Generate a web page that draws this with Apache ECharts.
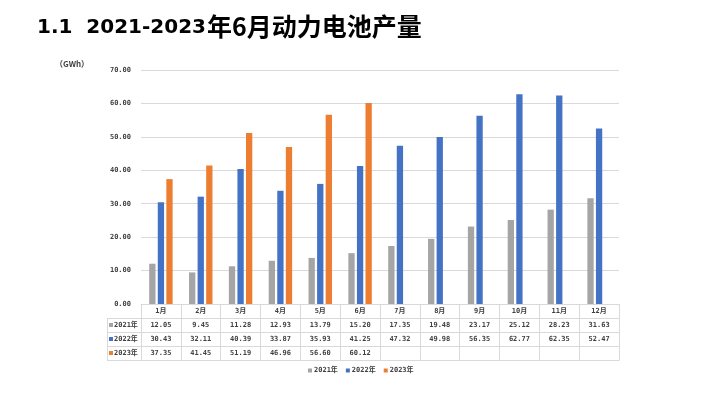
<!DOCTYPE html>
<html>
<head>
<meta charset="utf-8">
<script src="https://cdn.jsdelivr.net/npm/echarts@6/dist/echarts.min.js"></script>
<style>html,body{margin:0;padding:0;background:#fff;}#c{width:720px;height:395px;}</style>
</head>
<body>
<div id="c"></div>
<script>
const titleNumPart = '1.1  2021-2023';
const titleCjkPart = '年6月动力电池产量';
const unitText = '（GWh）';
const months = ['1月','2月','3月','4月','5月','6月','7月','8月','9月','10月','11月','12月'];
const seriesNames = ['2021年','2022年','2023年'];
const data2021 = [12.05, 9.45, 11.28, 12.93, 13.79, 15.20, 17.35, 19.48, 23.17, 25.12, 28.23, 31.63];
const data2022 = [30.43, 32.11, 40.39, 33.87, 35.93, 41.25, 47.32, 49.98, 56.35, 62.77, 62.35, 52.47];
const data2023 = [37.35, 41.45, 51.19, 46.96, 56.60, 60.12, null, null, null, null, null, null];
const yMin = 0, yMax = 70, yInterval = 10;

const allData = [data2021, data2022, data2023];
const colors = ['#A5A5A5', '#4472C4', '#ED7D31'];
const mono = "'DejaVu Sans Mono','Noto Sans CJK SC',monospace";
const textColor = '#404040';
const lineColor = '#d9d9d9';
const rowH = 14;
const gLeft = 141, gRight = 619, gTop = 70, gBottom = 304, tableLeft = 107;

const chart = echarts.init(document.getElementById('c'), null, {renderer: 'canvas'});

const xAxes = [{
  type: 'category', data: months, gridIndex: 0, position: 'bottom',
  axisLine: {show: true, lineStyle: {color: lineColor, width: 1}},
  axisTick: {show: true, length: rowH * 4, lineStyle: {color: lineColor, width: 1}},
  axisLabel: {margin: rowH / 2, verticalAlign: 'middle', fontSize: 7, fontWeight: 'bold', color: textColor, fontFamily: mono}
}];
allData.forEach((arr, k) => {
  xAxes.push({
    type: 'category', data: months, gridIndex: 0, position: 'bottom', offset: rowH * (k + 1),
    axisLine: {show: true, lineStyle: {color: lineColor, width: 1}},
    axisTick: {show: false},
    axisLabel: {margin: rowH / 2, verticalAlign: 'middle', fontSize: 7, fontWeight: 'bold', color: textColor, fontFamily: mono,
      formatter: (v, i) => (arr[i] == null ? '' : arr[i].toFixed(2))}
  });
});
xAxes.push({
  type: 'category', data: months, gridIndex: 0, position: 'bottom', offset: rowH * 4,
  axisLine: {show: true, lineStyle: {color: lineColor, width: 1}},
  axisTick: {show: false}, axisLabel: {show: false}
});

const graphics = [
  {type: 'text', x: 37, y: 28, style: {text: titleNumPart, font: "bold 20px 'DejaVu Sans'", fill: '#000', textVerticalAlign: 'middle'}},
  {type: 'text', x: 207, y: 26, style: {text: titleCjkPart, font: "bold 25px 'Noto Sans CJK SC'", fill: '#000', textVerticalAlign: 'middle'}},
  {type: 'text', x: 55, y: 64, style: {text: unitText, font: "bold 8px 'Noto Sans CJK SC'", fill: textColor, textVerticalAlign: 'middle'}},
  {type: 'line', shape: {x1: tableLeft + 0.5, y1: gBottom + rowH, x2: tableLeft + 0.5, y2: gBottom + rowH * 4}, style: {stroke: lineColor, lineWidth: 1}}
];
for (let k = 1; k <= 4; k++) {
  graphics.push({type: 'line', shape: {x1: tableLeft, y1: gBottom + rowH * k + 0.5, x2: gLeft, y2: gBottom + rowH * k + 0.5}, style: {stroke: lineColor, lineWidth: 1}});
}
seriesNames.forEach((nm, k) => {
  const cy = gBottom + rowH * (k + 1) + rowH / 2;
  graphics.push({type: 'rect', shape: {x: 109, y: cy - 2, width: 4, height: 4}, style: {fill: colors[k]}});
  graphics.push({type: 'text', x: 114, y: cy, style: {text: nm, font: "bold 7px " + mono, fill: textColor, textVerticalAlign: 'middle'}});
});

chart.setOption({
  animation: false,
  backgroundColor: '#fff',
  color: colors,
  grid: {left: gLeft, right: 720 - gRight, top: gTop, bottom: 395 - gBottom, containLabel: false},
  legend: {
    data: seriesNames, left: 308, top: 367, padding: 0, itemGap: 8,
    icon: 'rect', itemWidth: 4, itemHeight: 4,
    textStyle: {fontSize: 7, fontWeight: 'bold', color: textColor, fontFamily: mono, padding: [0, 0, 0, -3]}
  },
  xAxis: xAxes,
  yAxis: {
    type: 'value', min: yMin, max: yMax, interval: yInterval,
    axisLine: {show: false}, axisTick: {show: false},
    axisLabel: {margin: 10, fontSize: 7, fontWeight: 'bold', color: textColor, fontFamily: mono, formatter: v => v.toFixed(2)},
    splitLine: {lineStyle: {color: lineColor, width: 1}}
  },
  series: allData.map((arr, k) => ({
    name: seriesNames[k], type: 'bar', data: arr, xAxisIndex: 0,
    barWidth: 6.3, barGap: '36%', itemStyle: {color: colors[k]}
  })),
  graphic: graphics
});
</script>
</body>
</html>
